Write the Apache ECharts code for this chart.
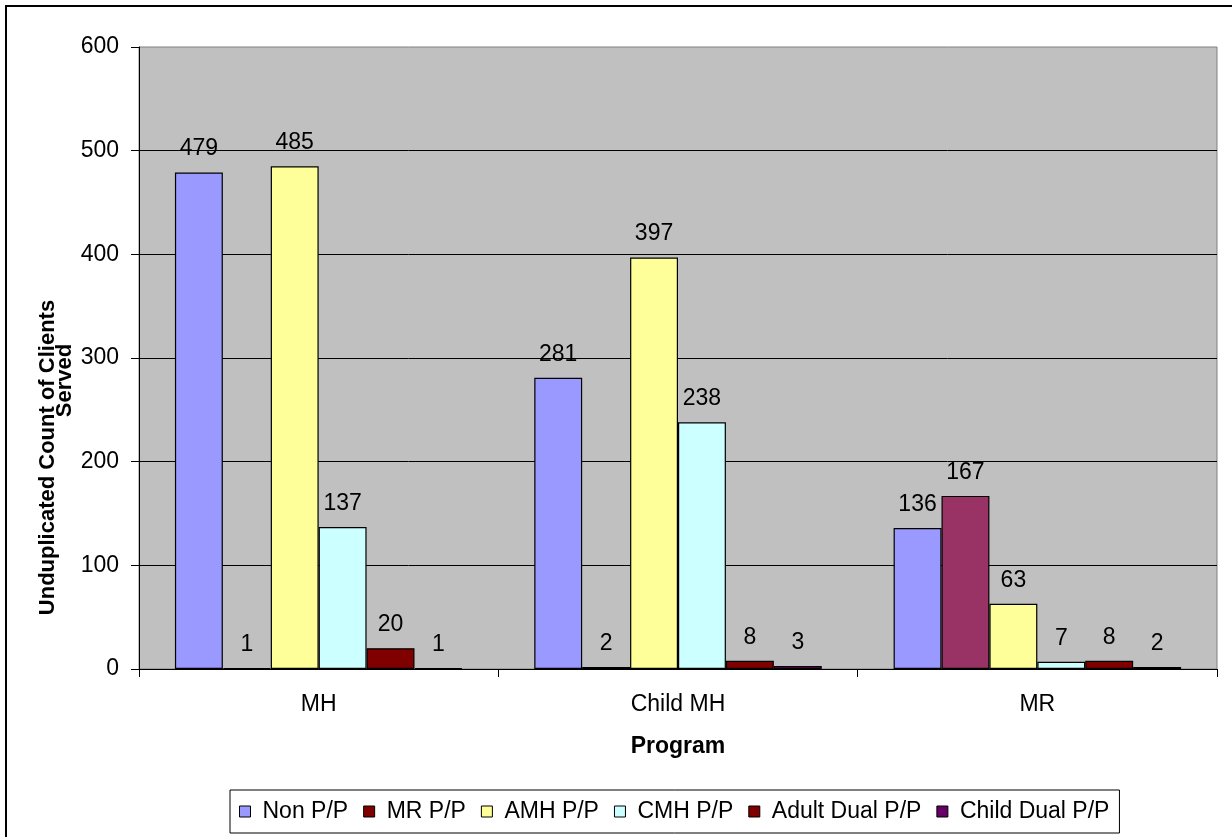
<!DOCTYPE html>
<html>
<head>
<meta charset="utf-8">
<script src="https://cdn.jsdelivr.net/npm/echarts@6/dist/echarts.min.js"></script>
<style>
  html, body { margin: 0; padding: 0; background: #ffffff; }
  #chart { width: 1232px; height: 837px; }
</style>
</head>
<body>
<div id="chart"></div>
<script>
// Program categories on the x axis
const programs = ['MH', 'Child MH', 'MR'];

// Unduplicated client counts per payer group
const seriesNames = ['Non P/P', 'MR P/P', 'AMH P/P', 'CMH P/P', 'Adult Dual P/P', 'Child Dual P/P'];
const nonPP       = [479, 281, 136];
const mrPP        = [1, 2, 167];
const amhPP       = [485, 397, 63];
const cmhPP       = [137, 238, 7];
const adultDualPP = [20, 8, 8];
const childDualPP = [1, 3, 2];

// Y axis tick range
const yMin = 0, yMax = 600, yStep = 100;

const FONT = "'Liberation Sans', Arial, sans-serif";
const colors = ['#9999FF', '#800000', '#FFFF99', '#CCFFFF', '#800000', '#660066'];
const values = [nonPP, mrPP, amhPP, cmhPP, adultDualPP, childDualPP];

const series = seriesNames.map((name, i) => ({
  name,
  type: 'bar',
  barGap: '0%',
  barCategoryGap: '20%',
  data: values[i].map((v, j) => {
    // the MR program's MR P/P bar is drawn in a plum tone
    if (i === 1 && j === 2) return { value: v, itemStyle: { color: '#993366' } };
    return v;
  }),
  itemStyle: { color: colors[i], borderColor: '#000', borderWidth: 1.2 },
  label: {
    show: true,
    position: 'top',
    distance: 12,
    color: '#000',
    fontFamily: FONT,
    fontSize: 23
  }
}));

const chart = echarts.init(document.getElementById('chart'), null, { renderer: 'canvas' });
chart.setOption({
  backgroundColor: '#ffffff',
  animation: false,
  grid: {
    left: 139, top: 47, right: 15, bottom: 168,
    show: true,
    backgroundColor: '#C0C0C0',
    borderColor: '#808080',
    borderWidth: 1
  },
  xAxis: {
    type: 'category',
    data: programs,
    axisLine: { lineStyle: { color: '#000', width: 1 } },
    axisTick: { show: true, alignWithLabel: false, length: 8, lineStyle: { color: '#000' } },
    axisLabel: { color: '#000', fontFamily: FONT, fontSize: 23, margin: 24 },
    name: 'Program',
    nameLocation: 'middle',
    nameGap: 66,
    nameTextStyle: { color: '#000', fontFamily: FONT, fontSize: 23, fontWeight: 'bold' }
  },
  yAxis: {
    type: 'value',
    min: yMin, max: yMax, interval: yStep,
    axisLine: { show: true, lineStyle: { color: '#000', width: 1 } },
    axisTick: { show: true, length: 8, lineStyle: { color: '#000' } },
    axisLabel: { color: '#000', fontFamily: FONT, fontSize: 23, margin: 20 },
    splitLine: { show: true, showMaxLine: false, lineStyle: { color: '#000', width: 1 } }
  },
  legend: {
    data: seriesNames,
    left: 230,
    top: 790,
    orient: 'horizontal',
    icon: 'rect',
    itemWidth: 11,
    itemHeight: 11,
    itemGap: 15,
    padding: [10, 10, 10, 9],
    backgroundColor: '#fff',
    borderColor: '#000',
    borderWidth: 1,
    itemStyle: { borderColor: '#000', borderWidth: 1 },
    textStyle: { color: '#000', fontFamily: FONT, fontSize: 23, padding: [0, 0, 0, 7] }
  },
  graphic: [
    {
      type: 'rect',
      silent: true,
      shape: { x: 6, y: 6, width: 1260, height: 880 },
      style: { fill: 'none', stroke: '#000', lineWidth: 2 }
    },
    {
      type: 'text',
      x: 47.5, y: 457.5,
      rotation: Math.PI / 2,
      style: {
        text: 'Unduplicated Count of Clients',
        fill: '#000', font: 'bold 22px ' + FONT,
        align: 'center', verticalAlign: 'middle'
      }
    },
    {
      type: 'text',
      x: 65, y: 380.5,
      rotation: Math.PI / 2,
      style: {
        text: 'Served',
        fill: '#000', font: 'bold 22px ' + FONT,
        align: 'center', verticalAlign: 'middle'
      }
    }
  ],
  series
});
</script>
</body>
</html>
